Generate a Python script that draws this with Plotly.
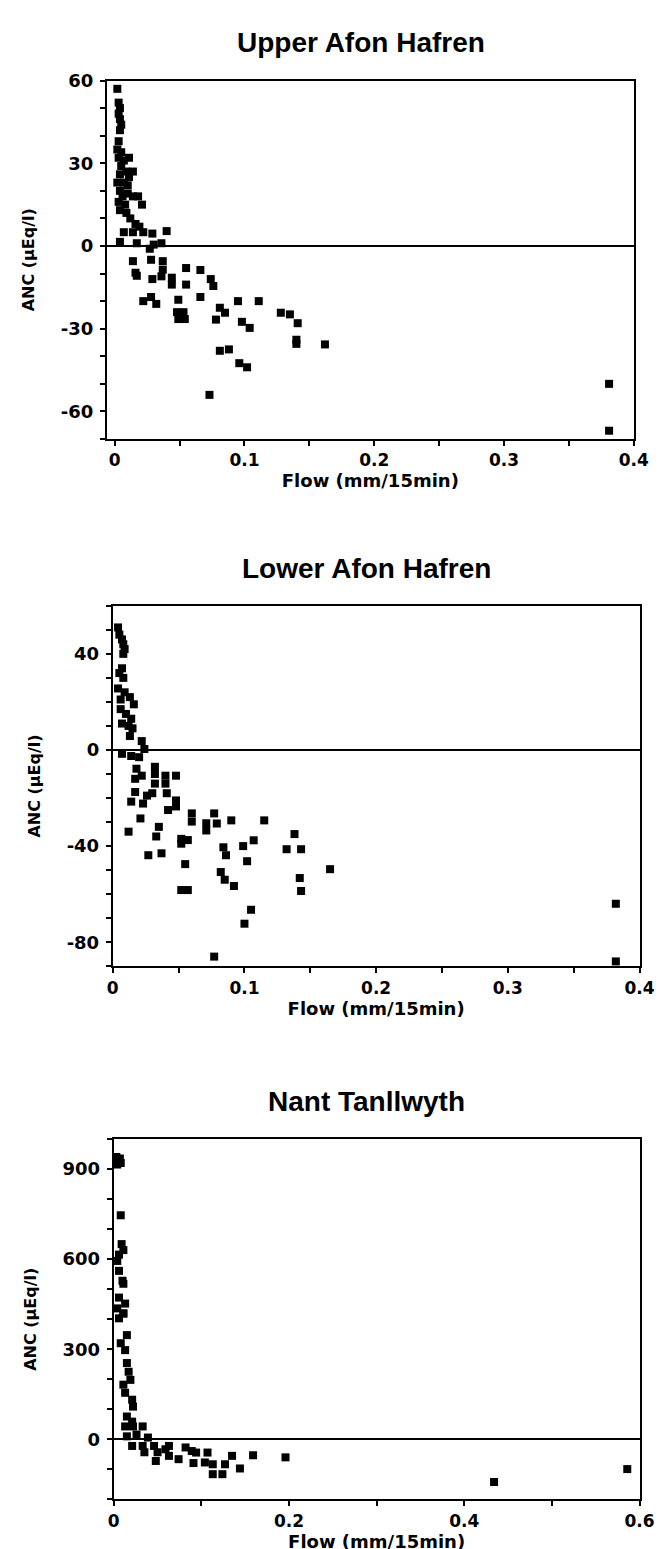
import plotly.graph_objects as go

# ---------------- data ----------------
titles = ["Upper Afon Hafren", "Lower Afon Hafren", "Nant Tanllwyth"]
x_title = "Flow (mm/15min)"
y_title = "ANC (µEq/l)"

upper_flow = [0.002, 0.003, 0.004, 0.003, 0.004, 0.005, 0.004, 0.003,
              0.002, 0.005, 0.003, 0.011, 0.007, 0.005, 0.009, 0.014, 0.004, 0.011,
              0.002, 0.007, 0.010, 0.004, 0.010, 0.018, 0.006, 0.014, 0.003, 0.008,
              0.021, 0.004, 0.009, 0.012, 0.016, 0.019, 0.007, 0.014, 0.022, 0.029,
              0.040, 0.004, 0.017, 0.030, 0.036,
              0.027, 0.028, 0.014, 0.016, 0.017, 0.037, 0.037, 0.036, 0.029, 0.044,
              0.044, 0.055, 0.055, 0.066, 0.074, 0.076, 0.022, 0.028, 0.032, 0.049,
              0.066, 0.048, 0.053, 0.049, 0.054, 0.078, 0.081, 0.085, 0.095, 0.111,
              0.098, 0.104, 0.128, 0.135, 0.141, 0.140, 0.140, 0.162, 0.081, 0.088,
              0.096, 0.102, 0.073, 0.381, 0.381]
upper_anc = [57, 52, 50, 48, 46, 44, 42, 38,
             35, 34, 32, 32, 31, 29, 27, 27, 26, 25,
             23, 23, 22, 20, 19, 18, 18, 18, 16, 15,
             15, 13, 12, 10, 8, 7, 5, 5, 5, 4.5,
             5.4, 1.5, 1, 0.5, 1,
             -1, -5, -5.5, -9.7, -10.8, -5.5, -8.6, -11, -12, -11.5,
             -14, -8, -14, -8.7, -12, -14.5, -20, -18.5, -21, -19.5,
             -18.5, -24, -24, -26.5, -26.5, -26.7, -22.4, -24.2, -20, -20,
             -27.5, -29.7, -24.2, -24.8, -28, -34, -35.5, -35.7, -38, -37.5,
             -42.5, -44, -54, -50, -67]

lower_flow = [0.004, 0.005, 0.007, 0.008, 0.009, 0.008, 0.007, 0.005, 0.008, 0.004,
              0.009, 0.013, 0.016, 0.006, 0.006, 0.010, 0.014, 0.007, 0.012, 0.015,
              0.013, 0.022, 0.007, 0.014, 0.020, 0.024, 0.018, 0.022, 0.017, 0.032,
              0.032, 0.040, 0.048, 0.032, 0.030, 0.026, 0.040, 0.041, 0.017, 0.014,
              0.023, 0.048, 0.048, 0.042, 0.021, 0.060, 0.060, 0.035, 0.012, 0.033,
              0.052, 0.057, 0.052, 0.071, 0.071, 0.077, 0.079, 0.090, 0.115, 0.027,
              0.037, 0.084, 0.086, 0.099, 0.102, 0.107, 0.138, 0.132, 0.143, 0.055,
              0.082, 0.085, 0.092, 0.142, 0.143, 0.052, 0.057, 0.165, 0.105, 0.100,
              0.077, 0.382, 0.382]
lower_anc = [51, 48, 46, 44, 42, 40, 34, 32, 30, 25.6,
             24, 22, 19, 21, 17, 15, 13, 11, 10, 9,
             5.8, 3.7, -1.6, -2.5, -3, 0.4, -7.8, -10.7, -12, -7,
             -10, -10.7, -10.7, -14, -18, -19, -14, -18, -17.5, -21.5,
             -22.3, -21, -23.5, -25, -28.5, -26.4, -29.8, -32, -34, -36,
             -37, -37.5, -39, -30.5, -33.5, -26.4, -30.6, -29.3, -29.3, -43.8,
             -43, -40.5, -43.8, -40, -46.3, -37.6, -35, -41.3, -41.3, -47.5,
             -50.8, -54, -56.6, -53.3, -58.7, -58.3, -58.3, -49.6, -66.5, -72.3,
             -86, -64, -88]

nant_flow = [0.003, 0.007, 0.004, 0.008, 0.008, 0.009, 0.011, 0.006, 0.004, 0.006,
             0.010, 0.011, 0.006, 0.013, 0.004, 0.011, 0.006, 0.011, 0.015, 0.008,
             0.013, 0.015, 0.017, 0.011, 0.019, 0.013, 0.021, 0.022, 0.015, 0.021,
             0.013, 0.022, 0.033, 0.015, 0.026, 0.039, 0.021, 0.033, 0.035, 0.046,
             0.050, 0.048, 0.059, 0.063, 0.063, 0.074, 0.082, 0.089, 0.094, 0.091,
             0.107, 0.104, 0.113, 0.113, 0.124, 0.127, 0.135, 0.144, 0.159, 0.196,
             0.434, 0.586]
nant_anc = [940, 935, 915, 920, 746, 650, 630, 615, 594, 561,
            528, 518, 472, 452, 436, 419, 403, 419, 347, 320,
            297, 254, 225, 182, 198, 155, 132, 109, 76, 59,
            43, 43, 43, 10, 16, 6, -22, -22, -43, -22,
            -43, -72, -33, -22, -55, -66, -27, -39, -44, -79,
            -44, -77, -83, -116, -116, -83, -55, -97, -53, -60,
            -142, -99]

# axis ticks (values and labels)
x_ticks_12 = [0, 0.05, 0.1, 0.15, 0.2, 0.25, 0.3, 0.35, 0.4]
x_labels_12 = ["0", "", "0.1", "", "0.2", "", "0.3", "", "0.4"]
x_ticks_3 = [0, 0.1, 0.2, 0.3, 0.4, 0.5, 0.6]
x_labels_3 = ["0", "", "0.2", "", "0.4", "", "0.6"]
y_ticks_1 = [-70, -60, -50, -40, -30, -20, -10, 0, 10, 20, 30, 40, 50, 60]
y_labels_1 = ["", "-60", "", "", "-30", "", "", "0", "", "", "30", "", "", "60"]
y_ticks_2 = [-90, -80, -70, -60, -50, -40, -30, -20, -10, 0, 10, 20, 30, 40, 50, 60]
y_labels_2 = ["", "-80", "", "", "", "-40", "", "", "", "0", "", "", "", "40", "", ""]
y_ticks_3 = [-200, -100, 0, 100, 200, 300, 400, 500, 600, 700, 800, 900, 1000]
y_labels_3 = ["", "", "0", "", "", "300", "", "", "600", "", "", "900", ""]

# ---------------- figure ----------------
W, H = 663, 1549
TICKFONT = "DejaVu Sans, sans-serif"
TITLEFONT = "Liberation Sans, Arial, sans-serif"

# pixel boxes: (left, right, top, bottom)
boxes = [(96, 640, 62, 423), (102, 646, 591, 954), (103, 646, 1128, 1491)]
xranges = [[-0.006, 0.4], [0, 0.4], [0, 0.6]]
yranges = [[-70, 60], [-90, 60], [-200, 1000]]
xt = [(x_ticks_12, x_labels_12), (x_ticks_12, x_labels_12), (x_ticks_3, x_labels_3)]
yt = [(y_ticks_1, y_labels_1), (y_ticks_2, y_labels_2), (y_ticks_3, y_labels_3)]
data = [(upper_flow, upper_anc), (lower_flow, lower_anc), (nant_flow, nant_anc)]

fig = go.Figure()
layout = dict(
    width=W, height=H,
    margin=dict(l=0, r=0, t=0, b=0),
    paper_bgcolor="white", plot_bgcolor="white",
    showlegend=False,
    font=dict(family=TICKFONT, color="black"),
    annotations=[],
)

for i in range(3):
    l, r, t, b = boxes[i]
    xd = [l / W, r / W]
    yd = [1 - b / H, 1 - t / H]
    sfx = "" if i == 0 else str(i + 1)
    fig.add_trace(go.Scatter(
        x=data[i][0], y=data[i][1], mode="markers",
        marker=dict(symbol="square", size=8, color="black", line=dict(width=0)),
        xaxis="x" + sfx, yaxis="y" + sfx, cliponaxis=False,
    ))
    layout["xaxis" + sfx] = dict(
        domain=xd, range=xranges[i], anchor="y" + sfx,
        showline=True, mirror=True, linecolor="black", linewidth=2,
        ticks="outside", ticklen=5, tickwidth=1.5, tickcolor="black",
        tickvals=xt[i][0], ticktext=xt[i][1],
        tickfont=dict(family=TICKFONT, size=17, color="black", weight="bold"),
        showgrid=False, zeroline=False,
        title=dict(text=x_title, font=dict(family=TICKFONT, size=18, color="black", weight="bold"),
                   standoff=0),
    )
    layout["yaxis" + sfx] = dict(
        domain=yd, range=yranges[i], anchor="x" + sfx,
        showline=True, mirror=True, linecolor="black", linewidth=2,
        ticks="outside", ticklen=5, tickwidth=1.5, tickcolor="black",
        tickvals=yt[i][0], ticktext=yt[i][1], ticklabelstandoff=3,
        tickfont=dict(family=TICKFONT, size=18, color="black", weight="bold"),
        showgrid=False, zeroline=True, zerolinecolor="black", zerolinewidth=2,
        title=dict(text=y_title, font=dict(family=TICKFONT, size=16, color="black", weight="bold"),
                   standoff=22),
    )
    layout["annotations"].append(dict(
        text=titles[i], xref="paper", yref="paper",
        x=((l + r) / 2 - 10) / W, y=1 - (t - 38) / H,
        xanchor="center", yanchor="middle", showarrow=False,
        font=dict(family=TITLEFONT, size=28, color="black", weight="bold"),
    ))

fig.update_layout(**layout)
fig.write_html("out.html")
